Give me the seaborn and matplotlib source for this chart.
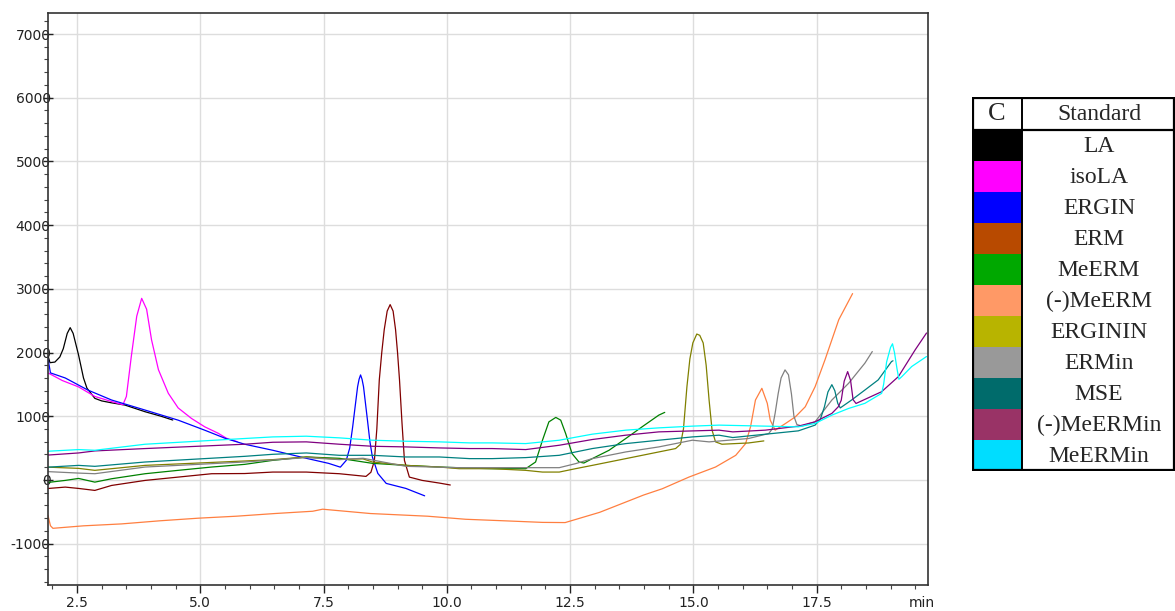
import pandas as pd
import matplotlib.pyplot as plt
import seaborn as sns
from matplotlib.patches import Rectangle
from matplotlib.ticker import MultipleLocator

# Chromatogram traces (time in min, signal)
la_t = [1.91, 1.95, 2.05, 2.15, 2.22, 2.30, 2.36, 2.42, 2.53, 2.63, 2.70, 2.86, 3.00, 3.20, 3.47, 3.88, 4.20, 4.44]
la_y = [1950, 1840, 1850, 1930, 2060, 2300, 2390, 2300, 1960, 1600, 1440, 1280, 1240, 1210, 1175, 1070, 1000, 940]

isola_t = [1.91, 2.20, 2.53, 2.86, 3.20, 3.43, 3.50, 3.60, 3.71, 3.81, 3.91, 4.01, 4.15, 4.35, 4.55, 4.82, 5.09, 5.36, 5.53, 5.75]
isola_y = [1680, 1560, 1460, 1310, 1230, 1180, 1310, 1940, 2570, 2850, 2680, 2200, 1730, 1360, 1130, 965, 833, 733, 654, 600]

ergin_t = [1.91, 1.96, 2.26, 2.72, 3.20, 3.88, 4.55, 5.09, 5.50, 5.90, 6.47, 7.15, 7.60, 7.84, 7.96, 8.03,
           8.09, 8.14, 8.19, 8.22, 8.25, 8.28, 8.31, 8.35, 8.39, 8.44, 8.49, 8.60, 8.77, 9.17, 9.55]
ergin_y = [1900, 1680, 1600, 1410, 1254, 1096, 938, 780, 654, 560, 465, 339, 260, 200, 307, 500,
           833, 1150, 1463, 1580, 1648, 1580, 1463, 1200, 938, 600, 360, 102, -55, -134, -250]

erm_t = [1.91, 2.26, 2.53, 2.86, 3.20, 3.88, 4.55, 5.23, 5.90, 6.47, 7.15, 7.82, 8.36, 8.46, 8.53, 8.58, 8.63,
         8.68, 8.73, 8.79, 8.85, 8.91, 8.96, 9.00, 9.04, 9.09, 9.14, 9.24, 9.50, 9.85, 10.07]
erm_y = [-135, -113, -134, -165, -87, -8, 44, 97, 100, 123, 123, 97, 55, 120, 300, 800, 1570,
         2000, 2358, 2650, 2752, 2650, 2358, 2000, 1570, 900, 307, 44, -8, -50, -80]

meerm_t = [1.91, 2.26, 2.53, 2.86, 3.20, 3.88, 4.55, 5.23, 5.90, 6.47, 7.15, 7.82, 8.49, 9.17, 9.85, 10.46,
           10.92, 11.60, 11.80, 11.94, 12.07, 12.21, 12.31, 12.41, 12.54, 12.68, 12.78, 12.95, 13.29, 13.63,
           13.96, 14.30, 14.42]
meerm_y = [-40, -8, 23, -35, 18, 97, 150, 202, 244, 307, 360, 339, 260, 228, 202, 185,
           176, 176, 281, 623, 911, 981, 938, 728, 413, 281, 265, 334, 465, 650,
           833, 1017, 1060]

mmeerm_t = [1.91, 1.96, 2.01, 2.63, 3.40, 4.18, 4.96, 5.73, 6.51, 7.28, 7.48, 8.45, 9.61, 10.38, 11.16, 11.94,
            12.40, 13.10, 13.99, 14.37, 14.91, 15.45, 15.86, 16.06, 16.16, 16.26, 16.39, 16.50, 16.56, 16.66,
            16.87, 17.07, 17.27, 17.47, 17.67, 17.95, 18.23]
mmeerm_y = [-560, -720, -760, -721, -691, -642, -601, -570, -528, -492, -460, -528, -570, -618, -642, -667,
            -670, -509, -238, -139, 44, 202, 386, 570, 833, 1254, 1438, 1202, 938, 781,
            886, 990, 1148, 1463, 1884, 2515, 2925]

erginin_t = [1.91, 2.53, 2.86, 3.88, 5.90, 6.47, 7.15, 7.82, 8.30, 8.49, 9.17, 9.85, 10.25, 10.92, 11.60, 11.94,
             12.28, 12.61, 12.95, 13.63, 14.30, 14.64, 14.74, 14.80, 14.87, 14.93, 14.99, 15.07, 15.13, 15.20,
             15.26, 15.32, 15.38, 15.45, 15.58, 16.12, 16.43]
erginin_y = [200, 181, 150, 228, 297, 318, 360, 323, 330, 281, 228, 202, 176, 176, 150, 123,
             123, 176, 228, 334, 439, 492, 560, 800, 1463, 1900, 2150, 2290, 2270, 2150,
             1800, 1250, 781, 597, 560, 580, 612]

ermin_t = [1.91, 2.53, 2.86, 3.88, 5.90, 7.15, 7.82, 8.30, 9.17, 10.25, 10.92, 11.60, 12.28, 12.61, 12.95, 13.63,
           14.30, 14.98, 15.32, 16.12, 16.53, 16.60, 16.66, 16.72, 16.78, 16.86, 16.93, 16.99, 17.04, 17.10,
           17.20, 17.47, 17.81, 18.15, 18.48, 18.63]
ermin_y = [130, 107, 97, 202, 281, 350, 318, 340, 213, 192, 192, 192, 192, 255, 334, 439,
           518, 623, 597, 650, 728, 800, 1050, 1350, 1600, 1727, 1650, 1350, 1000, 870,
           844, 912, 1254, 1517, 1833, 2015]

mse_t = [1.91, 2.53, 2.86, 3.88, 5.90, 6.47, 7.15, 7.82, 8.49, 9.17, 9.85, 10.46, 10.92, 11.60, 12.28, 12.95,
         13.63, 14.30, 14.98, 15.52, 15.80, 16.46, 17.13, 17.47, 17.58, 17.66, 17.73, 17.81, 17.87, 17.93,
         17.98, 18.21, 18.48, 18.75, 19.02, 19.05]
mse_y = [200, 228, 213, 281, 370, 402, 423, 386, 386, 360, 360, 334, 334, 350, 386, 492,
         570, 623, 675, 702, 665, 717, 770, 860, 960, 1150, 1380, 1495, 1400, 1200,
         1130, 1254, 1411, 1570, 1858, 1870]

mmeermin_t = [1.91, 2.53, 2.86, 3.88, 5.90, 6.47, 7.15, 7.82, 8.49, 9.17, 9.85, 10.46, 10.92, 11.60, 12.28, 12.95,
              13.63, 14.30, 15.52, 15.80, 16.46, 17.13, 17.47, 17.81, 17.94, 18.00, 18.06, 18.13, 18.19, 18.24,
              18.30, 18.82, 19.16, 19.50, 19.73]
mmeermin_y = [390, 423, 455, 492, 560, 591, 597, 560, 528, 518, 502, 492, 492, 476, 544, 634,
              702, 754, 781, 754, 781, 844, 912, 1044, 1148, 1250, 1550, 1700, 1560, 1260,
              1200, 1385, 1622, 2042, 2306]

meermin_t = [1.91, 2.53, 2.86, 3.88, 5.90, 6.47, 7.15, 7.82, 8.49, 9.17, 9.85, 10.46, 10.92, 11.60, 12.28, 12.95,
             13.63, 14.30, 14.98, 15.52, 16.46, 17.13, 17.47, 17.81, 18.15, 18.48, 18.82, 18.86, 18.92, 19.00,
             19.04, 19.08, 19.13, 19.17, 19.23, 19.43, 19.73]
meermin_y = [450, 476, 465, 560, 650, 675, 686, 660, 623, 607, 597, 581, 581, 570, 623, 718,
             781, 817, 844, 860, 844, 833, 886, 1017, 1122, 1202, 1359, 1500, 1850, 2080,
             2137, 2000, 1750, 1580, 1622, 1780, 1937]

standards = ["LA", "isoLA", "ERGIN", "ERM", "MeERM", "(-)MeERM", "ERGININ", "ERMin", "MSE", "(-)MeERMin", "MeERMin"]
line_colors = ["#000000", "#FF00FF", "#0000FF", "#800000", "#008000", "#FF7F40",
               "#808000", "#808080", "#008080", "#800080", "#00FFFF"]
swatch_colors = ["#000000", "#FF00FF", "#0000FF", "#B84A00", "#00A800", "#FF9966",
                 "#B8B400", "#999999", "#006B6B", "#993366", "#00DDFF"]

traces = [(la_t, la_y), (isola_t, isola_y), (ergin_t, ergin_y), (erm_t, erm_y), (meerm_t, meerm_y),
          (mmeerm_t, mmeerm_y), (erginin_t, erginin_y), (ermin_t, ermin_y), (mse_t, mse_y),
          (mmeermin_t, mmeermin_y), (meermin_t, meermin_y)]

df = pd.concat(
    [pd.DataFrame({"time": t, "signal": y, "standard": name}) for name, (t, y) in zip(standards, traces)],
    ignore_index=True,
)

sns.set_style("ticks")
plt.rcParams["font.family"] = ["DejaVu Sans"]
plt.rcParams["axes.unicode_minus"] = False

fig = plt.figure(figsize=(11.75, 6.11), dpi=100)
ax = fig.add_axes([48 / 1175, 26 / 611, 880 / 1175, 572 / 611])

sns.lineplot(data=df, x="time", y="signal", hue="standard", hue_order=standards,
             palette=dict(zip(standards, line_colors)), sort=False, estimator=None,
             legend=False, linewidth=0.9, ax=ax)

ax.set_xlim(1.91, 19.76)
ax.set_ylim(-1650, 7330)
ax.xaxis.set_minor_locator(MultipleLocator(0.5))
ax.yaxis.set_major_locator(MultipleLocator(1000))
ax.yaxis.set_minor_locator(MultipleLocator(200))
ax.set_xticks([2.5, 5.0, 7.5, 10.0, 12.5, 15.0, 17.5])
ax.set_xticklabels(["2.5", "5.0", "7.5", "10.0", "12.5", "15.0", "17.5"])
ax.grid(True, which="major", color="#dddddd", linewidth=1)
ax.set_axisbelow(True)
ax.set_xlabel("")
ax.set_ylabel("")

ax.tick_params(axis="y", which="major", direction="inout", length=7, width=1, pad=-5.5, labelsize=10, colors="#222222")
ax.tick_params(axis="y", which="minor", direction="out", length=3, width=0.8, colors="#444444")
ax.tick_params(axis="x", which="major", direction="out", length=6, width=1, pad=2, labelsize=10, colors="#222222")
ax.tick_params(axis="x", which="minor", direction="out", length=3, width=0.8, colors="#444444")
for s in ax.spines.values():
    s.set_visible(True)
    s.set_color("#333333")
    s.set_linewidth(1.2)

ax.text(0.993, -0.0315, "min", transform=ax.transAxes, ha="center", va="center", fontsize=10, color="#222222")

# legend table drawn in pixel units
lax = fig.add_axes([972 / 1175, 140 / 611, 203 / 1175, 374 / 611])
lax.set_xlim(0, 203)
lax.set_ylim(374, 0)
lax.axis("off")
header_h = 33
row_h = (374 - header_h) / len(standards)
serif = ["Liberation Serif", "DejaVu Serif"]
lax.text(25, header_h / 2 + 1, "C", ha="center", va="center", fontsize=19, family=serif)
lax.text(127, header_h / 2 + 1, "Standard", ha="center", va="center", fontsize=17, family=serif)
for i, (name, col) in enumerate(zip(standards, swatch_colors)):
    top = header_h + i * row_h
    lax.add_patch(Rectangle((0, top), 50, row_h, facecolor=col, edgecolor="none"))
    lax.text(127, top + row_h / 2 + 1, name, ha="center", va="center", fontsize=17, family=serif)
lax.add_patch(Rectangle((1, 1), 201, 372, facecolor="none", edgecolor="black", linewidth=1.6))
lax.plot([50, 50], [0, 374], color="black", linewidth=1.4)
lax.plot([0, 203], [header_h, header_h], color="black", linewidth=1.6)

fig.savefig("out.png", dpi=100)
plt.close(fig)
